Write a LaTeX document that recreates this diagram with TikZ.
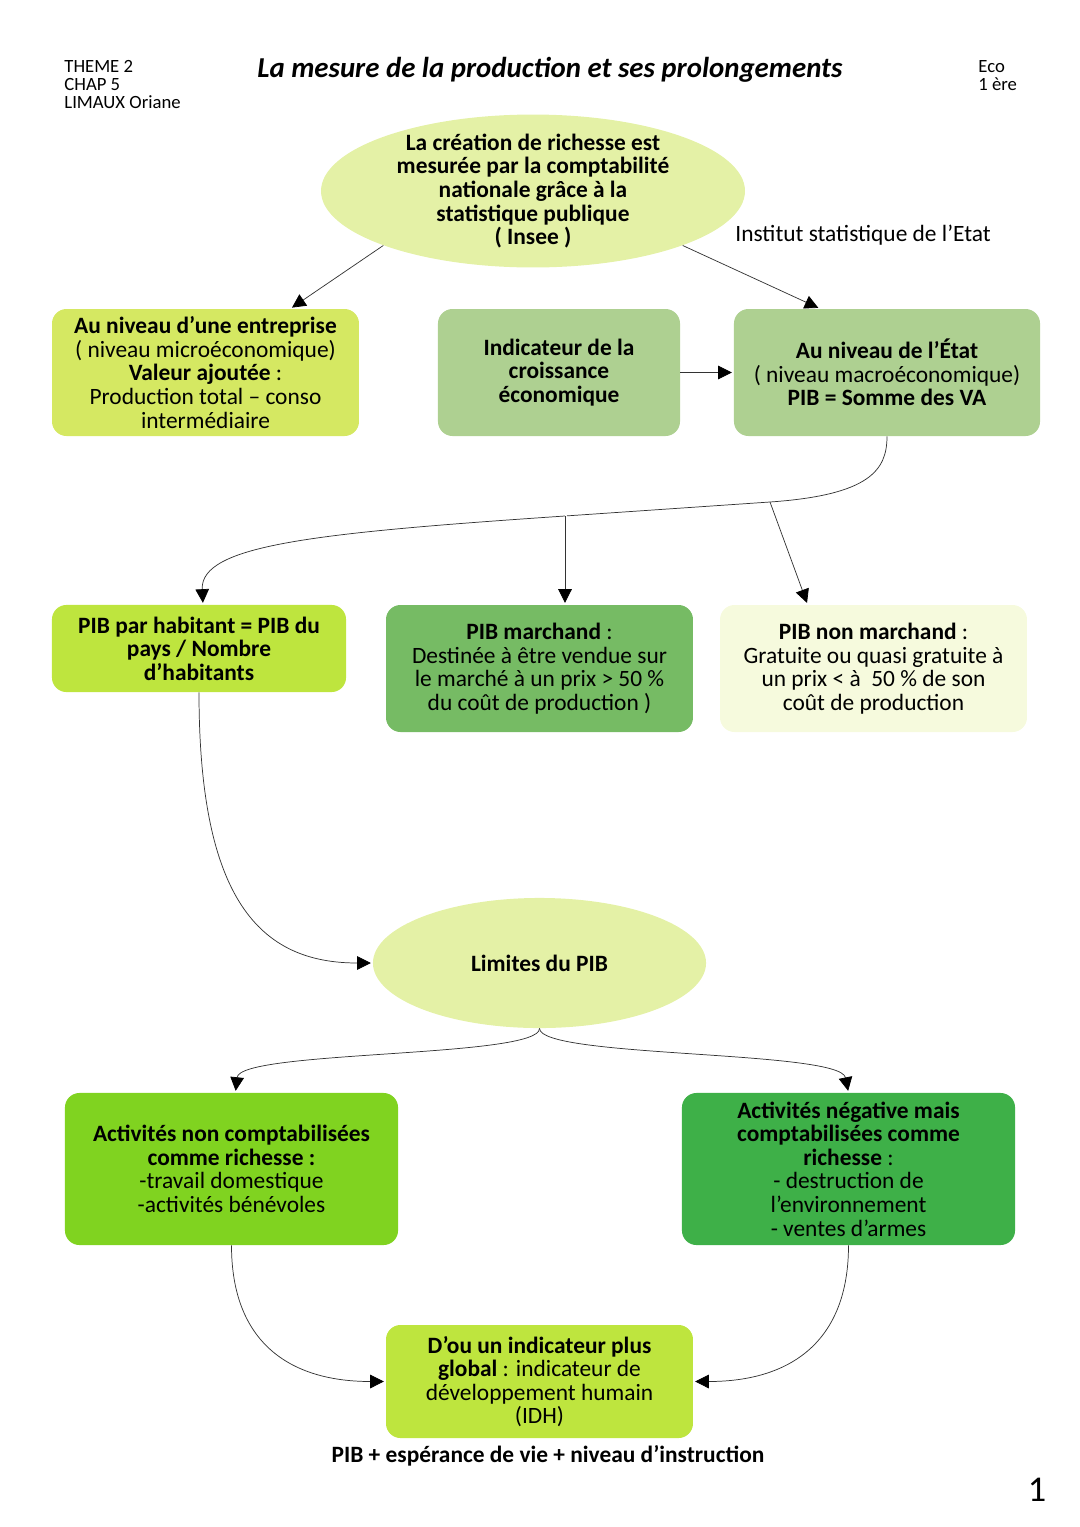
\documentclass[tikz,border=0pt]{standalone}
\usepackage{fontspec}
\setmainfont{Carlito}
\usetikzlibrary{arrows.meta, shapes.geometric, calc}

\definecolor{cBlob}{RGB}{228,241,166}
\definecolor{cEntr}{RGB}{213,232,98}
\definecolor{cIndic}{RGB}{174,208,145}
\definecolor{cHab}{RGB}{190,229,62}
\definecolor{cMarch}{RGB}{118,187,100}
\definecolor{cNMarch}{RGB}{246,250,221}
\definecolor{cNonC}{RGB}{128,211,32}
\definecolor{cNeg}{RGB}{62,176,72}

\begin{document}
\begin{tikzpicture}[
            x = 0.5512pt, y = -0.5512pt,
            > = {Triangle[length=7.5pt,width=7.5pt,color=black]},
            shorten > = 1pt,
            thin
        ]
        \tikzstyle{box}=[
            rectangle,
            rounded corners = 8pt,
            align = center,
            inner sep = 0pt,
            font = \fontsize{12.9}{13}\selectfont
        ]
        \tikzstyle{blob}=[
            ellipse,
            fill = cBlob,
            align = center,
            inner sep = 0pt,
            font = \fontsize{12.9}{13}\selectfont
        ]
        \tikzstyle{link}=[->, draw = black!80]
        \useasboundingbox (0,0) rectangle (1080,1527);

        % en-tete
        \node[anchor=north west, align=left, font=\fontsize{10.3}{9.9}\selectfont] (theme) at (58,54) {THEME 2\\CHAP 5\\LIMAUX Oriane};
        \node[anchor=north west, align=left, font=\fontsize{10.3}{9.9}\selectfont] (eco) at (972,54) {Eco\\1 ère};
        \node[font=\fontsize{15.9}{17}\selectfont\bfseries\itshape] (titre) at (550,70) {La mesure de la production et ses prolongements};

        % noeuds
        \node[blob, minimum width=233.7pt, minimum height=84.3pt, inner ysep=-5pt] (crea) at (533,191)
            {\bfseries La création de richesse est\\\bfseries mesurée par la comptabilité\\\bfseries nationale grâce à la\\\bfseries statistique publique\\\bfseries ( Insee )};
        \node[anchor=west, font=\fontsize{12.9}{13}\selectfont] (insee) at (729,235) {Institut statistique de l’Etat};
        \node[box, fill=cEntr, minimum width=169.2pt, minimum height=70pt] (entr) at (205.5,372.5)
            {\textbf{Au niveau d’une entreprise}\\( niveau microéconomique)\\\textbf{Valeur ajoutée} :\\Production total – conso\\intermédiaire};
        \node[box, fill=cIndic, minimum width=133.4pt, minimum height=70pt] (indic) at (559,372.5)
            {\bfseries Indicateur de la\\\bfseries croissance\\\bfseries économique};
        \node[box, fill=cIndic, minimum width=168.7pt, minimum height=70pt] (etat) at (887,372.5)
            {\textbf{Au niveau de l’État}\\( niveau macroéconomique)\\\textbf{PIB = Somme des VA}};
        \node[box, fill=cHab, minimum width=162.1pt, minimum height=48pt] (hab) at (199,648.5)
            {\bfseries PIB par habitant = PIB du\\\bfseries pays / Nombre\\\bfseries d’habitants};
        \node[box, fill=cMarch, minimum width=169.2pt, minimum height=70pt] (march) at (539.5,668.5)
            {\textbf{PIB marchand} :\\Destinée à être vendue sur\\le marché à un prix > 50 \%\\du coût de production )};
        \node[box, fill=cNMarch, minimum width=169.2pt, minimum height=70pt] (nmarch) at (873.5,668.5)
            {\textbf{PIB non marchand} :\\Gratuite ou quasi gratuite à\\un prix < à \ 50 \% de son\\coût de production};
        \node[blob, minimum width=183.6pt, minimum height=71.7pt] (lim) at (539.5,963) {\bfseries Limites du PIB};
        \node[box, fill=cNonC, minimum width=183.6pt, minimum height=83.8pt] (nonc) at (231.5,1169)
            {\bfseries Activités non comptabilisées\\\bfseries comme richesse :\\-travail domestique\\-activités bénévoles};
        \node[box, fill=cNeg, minimum width=183.6pt, minimum height=83.8pt] (neg) at (848.5,1169)
            {\bfseries Activités négative mais\\\bfseries comptabilisées comme\\\textbf{richesse} :\\- destruction de\\l’environnement\\- ventes d’armes};
        \node[box, fill=cHab, minimum width=169.2pt, minimum height=62.3pt] (idh) at (539.5,1381.5)
            {\bfseries D’ou un indicateur plus\\\textbf{global} : indicateur de\\développement humain\\(IDH)};
        \node[font=\fontsize{12.9}{13}\selectfont\bfseries] (formule) at (548,1456) {PIB + espérance de vie + niveau d’instruction};
        \node[font=\fontsize{20}{22}\selectfont] (page) at (1037,1490) {1};

        % points de branchement
        \coordinate (j1) at (770,502);
        \coordinate (j2) at (565,516);

        % liaisons
        \path (crea.200) edge[link] ($(entr.north)+(85,0)$);
        \path (crea.-20) edge[link] ($(etat.north)+(-67,0)$);
        \path (indic) edge[link] (etat);
        \draw[draw=black!80] (etat.south) .. controls (887,470) and (870,495) .. (j1) -- (j2);
        \draw[link] (j2) .. controls (315,533) and (200,545) .. ($(hab.north)+(4,0)$);
        \draw[link] (j2) -- (j2 |- march.north);
        \draw[link] (j1) -- ($(nmarch.north west)+(88,0)$);
        \draw[link] (hab.south) .. controls (199,900) and (260,963) .. (lim.west);
        \draw[link] (lim.south) .. controls (540,1058) and (240,1050) .. ($(nonc.north)+(4,0)$);
        \draw[link] (lim.south) .. controls (540,1058) and (840,1050) .. (neg.north);
        \draw[link] (nonc.south) to[out=-90, in=180, looseness=1.2] (idh.west);
        \draw[link] (neg.south) to[out=-90, in=0, looseness=1.2] (idh.east);
\end{tikzpicture}
\end{document}
